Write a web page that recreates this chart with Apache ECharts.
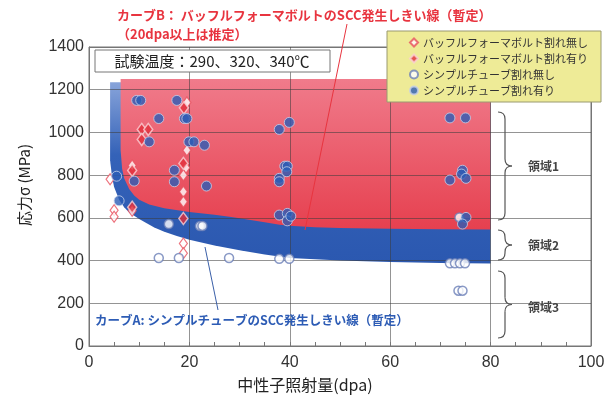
<!DOCTYPE html>
<html>
<head>
<meta charset="utf-8">
<script src="https://cdn.jsdelivr.net/npm/echarts@6/dist/echarts.min.js"></script>
<style>
html, body { margin: 0; padding: 0; background: #fff; }
#chart { width: 614px; height: 398px; }
</style>
</head>
<body>
<div id="chart"></div>
<script>
// axis ticks
const xTicks = [0, 20, 40, 60, 80, 100];
const yTicks = [0, 200, 400, 600, 800, 1000, 1200, 1400];

// curve B (baffle former bolt threshold), red region sits above it
const curveBx = [6.3, 6.6, 7, 8, 9, 10, 12, 15, 20, 25, 28, 30, 35, 38, 40, 45, 50, 60, 70, 80];
const curveBy = [917, 830, 785, 735, 705, 685, 662, 645, 628, 615, 605, 598, 580, 568, 563, 556, 552, 549, 547, 545];
const curveBtop = 1250;

// curve A (thimble tube threshold), blue band sits above it
const curveAx = [4.2, 4.6, 5, 6, 7, 8, 10, 11.5, 13, 15, 17.5, 20, 25, 30, 35, 40, 50, 60, 70, 80];
const curveAy = [870, 790, 745, 685, 650, 625, 595, 575, 555, 535, 515, 497, 470, 448, 428, 412, 400, 393, 389, 386];
const curveAtop = 1235;

// points [dpa, MPa]
const bfbNoCrack = [
  [4.2, 781], [5, 636], [5, 605], [8.6, 845], [8.6, 633], [19.5, 1140],
  [19.3, 835], [18.8, 800], [19.5, 917], [18.8, 722], [18.8, 675], [18.8, 480], [18.8, 434]
];
const bfbCrack = [
  [18.9, 1115], [10.5, 1014], [11.8, 1014], [10.5, 967], [8.6, 822],
  [18.8, 855], [18.8, 597], [8.6, 650]
];
const ttNoCrack = [
  [15.9, 571], [22.1, 562], [22.6, 562], [13.9, 412], [17.9, 412], [27.9, 412],
  [37.9, 408], [39.9, 408], [71.9, 387], [72.9, 387], [73.9, 387], [74.9, 387],
  [73.6, 259], [74.4, 259], [73.8, 602]
];
const ttCrack = [
  [9.5, 1150], [10.3, 1150], [17.5, 1150], [13.9, 1065], [19, 1065], [19.5, 1065],
  [12, 956], [19.9, 956], [20.9, 956], [23, 940], [17, 823], [17, 769], [23.4, 749],
  [5.5, 795], [9, 772], [6, 680],
  [37.9, 1014], [39.9, 1047], [39, 842], [39.5, 842], [39.4, 816], [37.9, 785], [37.9, 769],
  [37.9, 613], [39.5, 621], [39.5, 586], [40.2, 608],
  [71.9, 1068], [75, 1068], [74.4, 823], [74.2, 805], [75.1, 785], [71.9, 777], [75.1, 602], [74.4, 571]
];

const names = [
  'バッフルフォーマボルト割れ無し',
  'バッフルフォーマボルト割れ有り',
  'シンプルチューブ割れ無し',
  'シンプルチューブ割れ有り'
];

const jp = "'Noto Sans CJK JP', sans-serif";

function region(xs, ys, top, fill) {
  const pts = [[xs[0], top], [xs[xs.length - 1], top]];
  for (let i = xs.length - 1; i >= 0; i--) pts.push([xs[i], ys[i]]);
  return {
    type: 'custom',
    coordinateSystem: 'cartesian2d',
    silent: true,
    z: 1,
    data: [0],
    renderItem: function (params, api) {
      return {
        type: 'polygon',
        shape: { points: pts.map(p => api.coord(p)) },
        style: { fill: fill }
      };
    }
  };
}

function brace(x, y1, y2, w) {
  const ym = (y1 + y2) / 2;
  const st = { stroke: '#555', lineWidth: 1.2, fill: null };
  const bz = (a, b, c, d, e, f) => ({ type: 'bezierCurve', shape: { x1: a, y1: b, x2: c, y2: d, cpx1: e, cpy1: f }, style: st, z: 10 });
  const ln = (a, b, c, d) => ({ type: 'line', shape: { x1: a, y1: b, x2: c, y2: d }, style: st, z: 10 });
  return [
    bz(x, y1, x + w, y1 + w, x + w, y1),
    ln(x + w, y1 + w, x + w, ym - w),
    bz(x + w, ym - w, x + 2 * w, ym, x + w, ym),
    bz(x + 2 * w, ym, x + w, ym + w, x + w, ym),
    ln(x + w, ym + w, x + w, y2 - w),
    bz(x + w, y2 - w, x, y2, x + w, y2)
  ];
}

const chart = echarts.init(document.getElementById('chart'));

const graphics = [].concat(
  brace(498, 112, 220, 7), brace(498, 230, 260, 7), brace(498, 271, 338, 7),
  [
    { type: 'text', x: 528, y: 166, z: 10, style: { text: '領域1', fontSize: 12, fontWeight: 'bold', fontFamily: jp, fill: '#444', verticalAlign: 'middle' } },
    { type: 'text', x: 528, y: 245, z: 10, style: { text: '領域2', fontSize: 12, fontWeight: 'bold', fontFamily: jp, fill: '#444', verticalAlign: 'middle' } },
    { type: 'text', x: 528, y: 307, z: 10, style: { text: '領域3', fontSize: 12, fontWeight: 'bold', fontFamily: jp, fill: '#444', verticalAlign: 'middle' } },
    // legend box
    { type: 'rect', z: 10, shape: { x: 387, y: 31, width: 214, height: 71 }, style: { fill: '#eeeb97', stroke: '#9a9a70', lineWidth: 1 } },
    // test temperature box
    { type: 'rect', z: 10, shape: { x: 95, y: 50, width: 235, height: 22 }, style: { fill: '#fff', stroke: '#777', lineWidth: 1 } },
    { type: 'text', x: 212, y: 61, z: 11, style: { text: '試験温度：290、320、340℃', fontSize: 15, fontFamily: jp, fill: '#222', align: 'center', verticalAlign: 'middle' } },
    // curve B note
    { type: 'text', x: 117, y: 15, z: 11, style: { text: 'カーブB： バッフルフォーマボルトのSCC発生しきい線（暫定）', fontSize: 13, fontWeight: 'bold', fontFamily: jp, fill: '#e8343f', verticalAlign: 'middle' } },
    { type: 'text', x: 117, y: 34, z: 11, style: { text: '（20dpa以上は推定）', fontSize: 13, fontWeight: 'bold', fontFamily: jp, fill: '#e8343f', verticalAlign: 'middle' } },
    { type: 'line', z: 9, shape: { x1: 347, y1: 24, x2: 305, y2: 230 }, style: { stroke: '#e8343f', lineWidth: 1 } },
    // curve A note
    { type: 'text', x: 95, y: 320, z: 11, style: { text: 'カーブA: シンプルチューブのSCC発生しきい線（暫定）', fontSize: 12.5, fontWeight: 'bold', fontFamily: jp, fill: '#2d5cb5', verticalAlign: 'middle' } },
    { type: 'line', z: 9, shape: { x1: 205, y1: 247, x2: 218, y2: 310 }, style: { stroke: '#3a5fa8', lineWidth: 1 } },
    // axis names
    { type: 'text', x: 305, y: 385, z: 11, style: { text: '中性子照射量(dpa)', fontSize: 16, fontFamily: jp, fill: '#222', align: 'center', verticalAlign: 'middle' } },
    { type: 'text', x: 24, y: 185, rotation: Math.PI / 2, z: 11, style: { text: '応力σ (MPa)', fontSize: 15, fontFamily: jp, fill: '#222', align: 'center', verticalAlign: 'middle' } }
  ]
);

const option = {
  backgroundColor: '#fff',
  animation: false,
  grid: { left: 89, right: 23, top: 47, bottom: 52, show: true, borderColor: '#777', borderWidth: 1 },
  xAxis: {
    type: 'value',
    min: xTicks[0], max: xTicks[xTicks.length - 1], interval: xTicks[1] - xTicks[0],
    z: 3,
    axisLine: { show: true, lineStyle: { color: '#777' } },
    axisTick: { show: true, inside: true, length: 4, lineStyle: { color: '#777' } },
    minorTick: { show: true, splitNumber: 4, length: 4, lineStyle: { color: '#777' } },
    axisLabel: { fontSize: 16, color: '#333', margin: 9, fontFamily: 'Liberation Sans' },
    splitLine: { show: true, lineStyle: { color: 'rgba(60,60,60,0.55)' } }
  },
  yAxis: {
    type: 'value',
    min: yTicks[0], max: yTicks[yTicks.length - 1], interval: yTicks[1] - yTicks[0],
    z: 3,
    axisLine: { show: true, lineStyle: { color: '#777' } },
    axisTick: { show: false },
    axisLabel: { fontSize: 16, color: '#333', margin: 5, fontFamily: 'Liberation Sans', formatter: v => String(v) },
    splitLine: { show: true, lineStyle: { color: 'rgba(60,60,60,0.55)' } }
  },
  legend: {
    orient: 'vertical', left: 409, top: 37, itemGap: 5, itemWidth: 8, itemHeight: 8, padding: 0, z: 12,
    textStyle: { fontSize: 11, color: '#333', fontFamily: jp },
    data: names
  },
  graphic: { elements: graphics },
  series: [
    region(curveAx, curveAy, curveAtop, new echarts.graphic.LinearGradient(0, 0, 0, 1, [
      { offset: 0, color: '#88a4da' }, { offset: 0.4, color: '#3462b8' }, { offset: 1, color: '#2b58b0' }
    ])),
    region(curveBx, curveBy, curveBtop, new echarts.graphic.LinearGradient(0, 0, 0, 1, [
      { offset: 0, color: '#f07b8b' }, { offset: 1, color: '#e6404f' }
    ])),
    {
      name: names[0], type: 'scatter', data: bfbNoCrack, z: 4,
      symbol: 'diamond', symbolSize: [8, 11],
      itemStyle: { color: '#fff', borderColor: '#e9505e', borderWidth: 1.2 }
    },
    {
      name: names[1], type: 'scatter', data: bfbCrack, z: 5,
      symbol: 'diamond', symbolSize: [9, 12],
      itemStyle: { color: '#e2303c', borderColor: '#fbd0d4', borderWidth: 1.5 }
    },
    {
      name: names[2], type: 'scatter', data: ttNoCrack, z: 4,
      symbol: 'circle', symbolSize: 9,
      itemStyle: { color: '#fff', borderColor: '#6c80b8', borderWidth: 1.5 }
    },
    {
      name: names[3], type: 'scatter', data: ttCrack, z: 5,
      symbol: 'circle', symbolSize: 10,
      itemStyle: { color: '#2b5cb6', borderColor: '#c6d1ea', borderWidth: 1 }
    }
  ]
};

chart.setOption(option);
</script>
</body>
</html>
